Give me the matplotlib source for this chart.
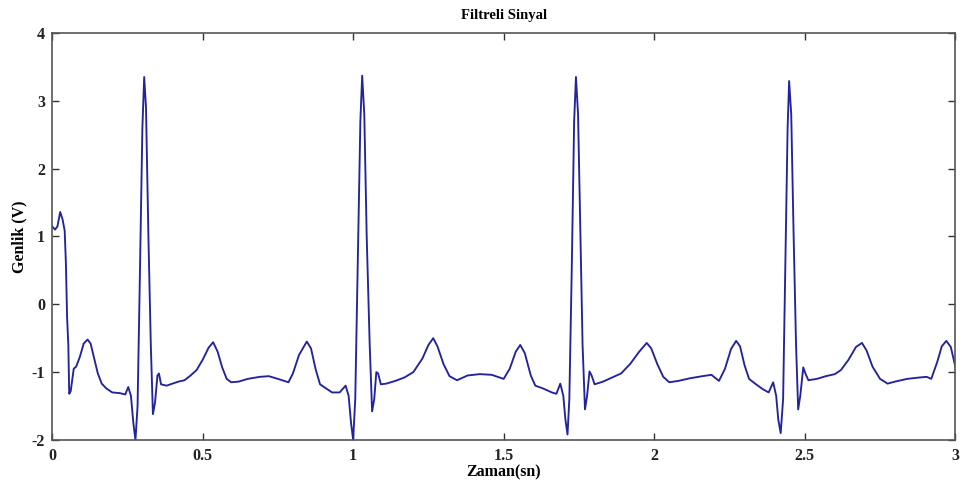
import matplotlib
matplotlib.use("Agg")
import matplotlib.pyplot as plt

# Time (s) and amplitude (V)
time_s = [
    0.000, 0.010, 0.018, 0.027, 0.035, 0.042, 0.046, 0.050, 0.054, 0.057,
    0.062, 0.066, 0.072, 0.080, 0.092, 0.105, 0.118, 0.128, 0.140, 0.152,
    0.165, 0.180, 0.200, 0.225, 0.243, 0.253, 0.262, 0.270, 0.277, 0.284,
    0.292, 0.300, 0.306, 0.312, 0.320, 0.328, 0.335, 0.342, 0.350, 0.355,
    0.362, 0.380, 0.400, 0.420, 0.440, 0.460, 0.480, 0.500, 0.520, 0.535,
    0.550, 0.565, 0.580, 0.595, 0.620, 0.650, 0.690, 0.720, 0.750, 0.785,
    0.800, 0.820, 0.846, 0.860, 0.875, 0.890, 0.910, 0.930, 0.955, 0.975,
    0.985, 0.993, 1.000, 1.007, 1.015, 1.024, 1.030, 1.037, 1.045, 1.055,
    1.063, 1.070, 1.077, 1.083, 1.092, 1.110, 1.140, 1.170, 1.200, 1.230,
    1.250, 1.266, 1.280, 1.300, 1.320, 1.345, 1.380, 1.420, 1.460, 1.500,
    1.520, 1.540, 1.555, 1.570, 1.590, 1.605, 1.630, 1.660, 1.675, 1.688,
    1.698, 1.705, 1.712, 1.718, 1.726, 1.734, 1.740, 1.747, 1.755, 1.762,
    1.770, 1.777, 1.785, 1.792, 1.802, 1.830, 1.860, 1.890, 1.920, 1.950,
    1.975, 1.990, 2.010, 2.030, 2.050, 2.080, 2.120, 2.160, 2.190, 2.215,
    2.235, 2.255, 2.272, 2.285, 2.300, 2.315, 2.335, 2.360, 2.380, 2.395,
    2.405, 2.412, 2.420, 2.428, 2.435, 2.443, 2.448, 2.455, 2.463, 2.471,
    2.478, 2.485, 2.495, 2.502, 2.512, 2.540, 2.570, 2.600, 2.620, 2.645,
    2.670, 2.690, 2.705, 2.725, 2.750, 2.775, 2.800, 2.840, 2.880, 2.905,
    2.920, 2.940, 2.955, 2.970, 2.985, 3.000,
]
amplitude_v = [
    1.15, 1.10, 1.15, 1.36, 1.25, 1.08, 0.60, -0.20, -0.60, -1.32,
    -1.28, -1.15, -0.95, -0.92, -0.78, -0.58, -0.52, -0.58, -0.80, -1.02,
    -1.17, -1.24, -1.30, -1.31, -1.33, -1.22, -1.35, -1.75, -2.00, -1.50,
    0.50, 2.60, 3.35, 2.90, 1.00, -0.60, -1.62, -1.45, -1.05, -1.02,
    -1.18, -1.20, -1.17, -1.14, -1.12, -1.05, -0.97, -0.82, -0.64, -0.56,
    -0.70, -0.93, -1.10, -1.15, -1.14, -1.10, -1.07, -1.06, -1.10, -1.15,
    -1.02, -0.75, -0.55, -0.65, -0.95, -1.18, -1.24, -1.30, -1.30, -1.20,
    -1.35, -1.75, -2.00, -1.40, 0.50, 2.70, 3.37, 2.80, 1.00, -0.60,
    -1.58, -1.40, -1.00, -1.02, -1.18, -1.17, -1.13, -1.08, -1.00, -0.80,
    -0.60, -0.50, -0.62, -0.88, -1.06, -1.12, -1.05, -1.03, -1.04, -1.10,
    -0.95, -0.70, -0.60, -0.72, -1.05, -1.20, -1.24, -1.30, -1.32, -1.17,
    -1.35, -1.70, -1.92, -1.40, 0.50, 2.70, 3.35, 2.80, 1.00, -0.60,
    -1.55, -1.35, -0.99, -1.05, -1.18, -1.14, -1.08, -1.02, -0.88, -0.70,
    -0.57, -0.65, -0.88, -1.07, -1.15, -1.13, -1.09, -1.06, -1.04, -1.13,
    -0.95, -0.66, -0.54, -0.62, -0.90, -1.10, -1.17, -1.25, -1.30, -1.15,
    -1.35, -1.70, -1.90, -1.40, 0.50, 2.60, 3.29, 2.80, 1.00, -0.60,
    -1.55, -1.35, -0.93, -1.02, -1.12, -1.10, -1.06, -1.03, -0.97, -0.82,
    -0.63, -0.57, -0.68, -0.92, -1.10, -1.17, -1.14, -1.10, -1.08, -1.07,
    -1.10, -0.85, -0.62, -0.54, -0.63, -0.92,
]

x_ticks = [0, 0.5, 1, 1.5, 2, 2.5, 3]
x_tick_labels = ["0", "0.5", "1", "1.5", "2", "2.5", "3"]
y_ticks = [-2, -1, 0, 1, 2, 3, 4]
y_tick_labels = ["-2", "-1", "0", "1", "2", "3", "4"]

plt.rcParams["font.family"] = ["Liberation Serif", "DejaVu Serif"]
plt.rcParams["font.weight"] = "bold"

fig = plt.figure(figsize=(9.64, 4.91), dpi=100)
ax = fig.add_axes([0.054, 0.104, 0.937, 0.829])

ax.plot(time_s, amplitude_v, color="#23239c", linewidth=1.35)

ax.set_xlim(0, 3)
ax.set_ylim(-2, 4)
ax.set_xticks(x_ticks)
ax.set_xticklabels(x_tick_labels)
ax.set_yticks(y_ticks)
ax.set_yticklabels(y_tick_labels)
ax.tick_params(direction="in", length=5, width=1, top=True, right=True,
               labelsize=11.5, colors="#333333")
ax.tick_params(axis="x", pad=6)
ax.tick_params(axis="y", pad=5)
for lab in ax.get_xticklabels() + ax.get_yticklabels():
    lab.set_fontweight("bold")
    lab.set_color("#222222")
for sp in ax.spines.values():
    sp.set_color("#555555")
    sp.set_linewidth(1.2)

ax.set_title("Filtreli Sinyal", fontsize=10.5, fontweight="bold", pad=10)
ax.set_xlabel("Zaman(sn)", fontsize=11.5, fontweight="bold", labelpad=0)
ax.set_ylabel("Genlik (V)", fontsize=11.5, fontweight="bold", labelpad=3)

fig.savefig("out.png", dpi=100, facecolor="white")
